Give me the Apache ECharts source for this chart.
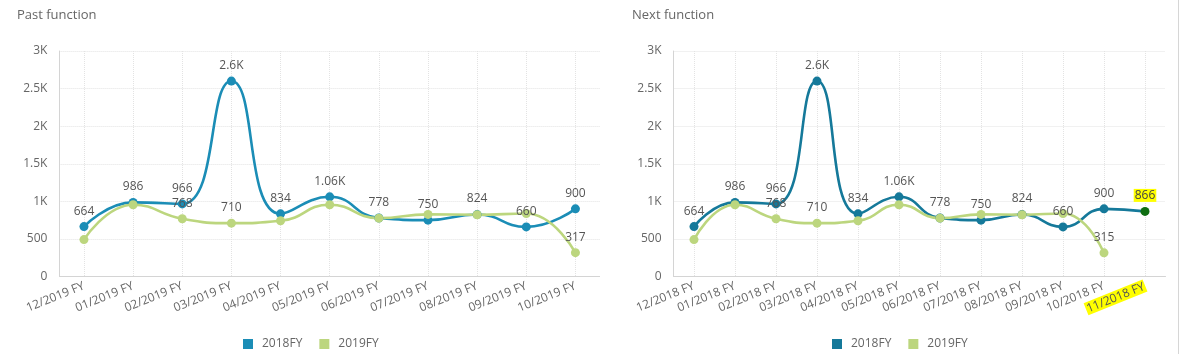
<!DOCTYPE html>
<html>
<head>
<meta charset="utf-8">
<script src="https://cdn.jsdelivr.net/npm/echarts@6/dist/echarts.min.js"></script>
<style>
html, body { margin: 0; padding: 0; background: #fff; }
.wrap { position: relative; width: 1185px; height: 354px; }
#past { position: absolute; left: 0; top: 0; width: 600px; height: 354px; }
#next { position: absolute; left: 600px; top: 0; width: 585px; height: 354px; }
.edge { position: absolute; left: 1178px; top: 0; width: 1px; height: 354px; background: #d6d6d6; }
</style>
</head>
<body>
<div class="wrap">
  <div id="past"></div>
  <div id="next"></div>
  <div class="edge"></div>
</div>
<script>
const pastMonths = ['12/2019 FY', '01/2019 FY', '02/2019 FY', '03/2019 FY', '04/2019 FY', '05/2019 FY',
  '06/2019 FY', '07/2019 FY', '08/2019 FY', '09/2019 FY', '10/2019 FY']
const pastFY2018 = [664, 986, 966, 2600, 834, 1060, 778, 750, 824, 660, 900]
const pastFY2019 = [491, 955, 768, 710, 741, 955, 776, 826, 822, 838, 317]
// 2019FY labels that are not hidden behind the 2018FY ones
const pastLabeled2019 = ['02/2019 FY', '03/2019 FY', '10/2019 FY']

const nextMonths = ['12/2018 FY', '01/2018 FY', '02/2018 FY', '03/2018 FY', '04/2018 FY', '05/2018 FY',
  '06/2018 FY', '07/2018 FY', '08/2018 FY', '09/2018 FY', '10/2018 FY', '11/2018 FY']
const nextFY2018 = [664, 986, 966, 2600, 834, 1060, 778, 750, 824, 660, 900, 866]
const nextFY2019 = [491, 955, 768, 710, 741, 955, 776, 826, 822, 838, 315]
const nextLabeled2019 = ['02/2018 FY', '03/2018 FY', '10/2018 FY']

const yMin = 0
const yMax = 3000
const yStep = 500
const markedMonth = '11/2018 FY'

const FONT = '"Open Sans", "Noto Sans", sans-serif'
const GREEN = '#bcd67e'

function kFormat(v) {
  if (v < 1000) return String(v)
  return parseFloat((v / 1000).toFixed(2)) + 'K'
}

function lineSeries(name, months, values, color, opts) {
  return {
    name,
    type: 'line',
    smooth: true,
    symbol: 'circle',
    symbolSize: 9,
    data: values.map((v, i) => {
      if (opts.marked && months[i] === markedMonth) {
        return { value: v, itemStyle: { color: opts.marked }, label: { backgroundColor: '#ffff00', padding: [1, 1, 0, 1], color: '#444' } }
      }
      if (opts.labeled && !opts.labeled.includes(months[i])) {
        return { value: v, label: { show: false } }
      }
      return v
    }),
    lineStyle: { color, width: 2.6 },
    itemStyle: { color },
    label: {
      show: true,
      position: 'top',
      distance: 5,
      color: '#555',
      fontSize: 12,
      fontFamily: FONT,
      formatter: (p) => kFormat(p.value)
    }
  }
}

function chartOption(title, months, s2018, s2019, labeled, blue, opts) {
  return {
    animation: false,
    textStyle: { fontFamily: FONT },
    title: {
      text: title,
      left: opts.titleLeft,
      top: 4,
      textStyle: { color: '#666', fontSize: 13, fontWeight: 'normal', fontFamily: FONT }
    },
    legend: {
      left: opts.legendLeft,
      top: 338,
      padding: 0,
      icon: 'rect',
      itemWidth: 10,
      itemHeight: 10,
      itemGap: 17,
      textStyle: { color: '#666', fontSize: 12, fontFamily: FONT, padding: [0, 0, 0, 4] },
      data: [
        { name: '2018FY', itemStyle: { color: blue } },
        { name: '2019FY', itemStyle: { color: GREEN } }
      ]
    },
    grid: { left: opts.gridLeft, right: opts.gridRight, top: 51, bottom: 77.5 },
    xAxis: {
      type: 'category',
      data: months,
      boundaryGap: true,
      axisLine: { lineStyle: { color: '#d4d4d4' } },
      axisTick: { show: false },
      splitLine: { show: true, alignWithLabel: true, lineStyle: { color: '#e3e3e3', type: 'dotted' } },
      axisLabel: {
        interval: 0,
        rotate: 22,
        margin: 9,
        color: '#666',
        fontSize: 12,
        fontFamily: FONT,
        formatter: (v) => v === markedMonth ? '{hl|' + v + '}' : v,
        rich: { hl: { backgroundColor: '#ffff00', color: '#555', fontSize: 12, fontFamily: FONT, padding: [1, 1, 0, 1] } }
      }
    },
    yAxis: {
      type: 'value',
      min: yMin,
      max: yMax,
      interval: yStep,
      axisLine: { show: true, lineStyle: { color: '#d4d4d4' } },
      axisTick: { show: false },
      splitLine: { lineStyle: { color: '#e3e3e3', type: 'dotted' } },
      axisLabel: { color: '#666', fontSize: 12, fontFamily: FONT, margin: 12, formatter: kFormat }
    },
    series: [
      lineSeries('2018FY', months, s2018, blue, { marked: opts.marked }),
      lineSeries('2019FY', months, s2019, GREEN, { labeled })
    ]
  }
}

const past = echarts.init(document.getElementById('past'))
past.setOption(chartOption('Past function', pastMonths, pastFY2018, pastFY2019, pastLabeled2019, '#1b8db6', {
  titleLeft: 12, legendLeft: 243, gridLeft: 59.4, gridRight: -0.6
}))

const next = echarts.init(document.getElementById('next'))
next.setOption(chartOption('Next function', nextMonths, nextFY2018, nextFY2019, nextLabeled2019, '#15799a', {
  titleLeft: 27, legendLeft: 232, gridLeft: 73.5, gridRight: 19.5, marked: '#0f6e12'
}))
</script>
</body>
</html>
